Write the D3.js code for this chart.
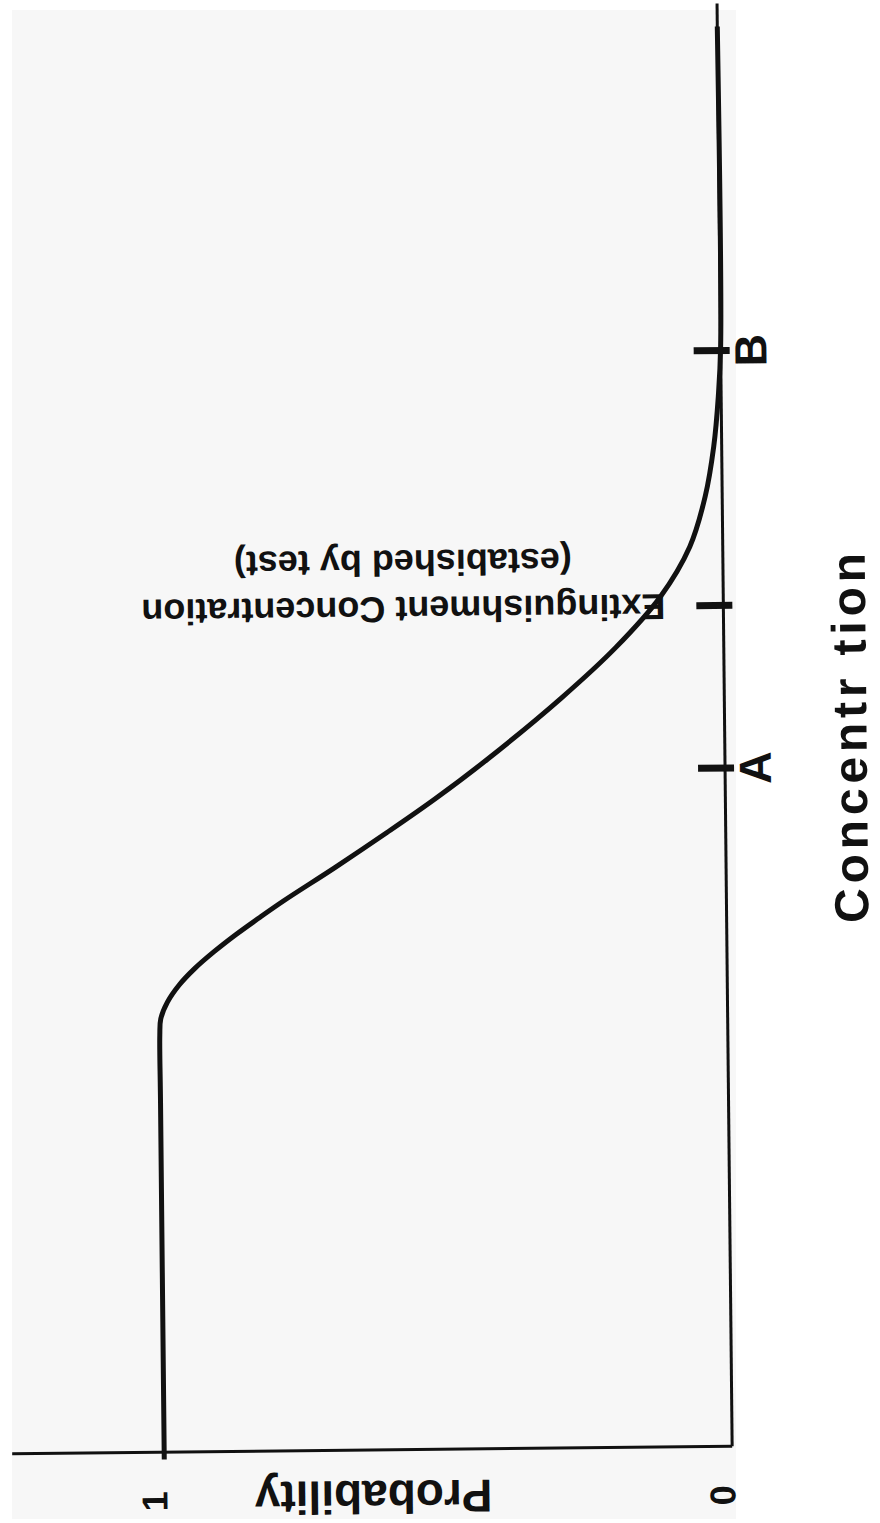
<!DOCTYPE html>
<html>
<head>
<meta charset="utf-8">
<script src="https://cdn.jsdelivr.net/npm/d3@7"></script>
<style>
  html, body { margin: 0; padding: 0; background: #ffffff; }
  svg { display: block; }
  text { font-family: "Liberation Sans", Arial, sans-serif; font-weight: bold; fill: #111; }
</style>
</head>
<body>
<svg id="chart" width="880" height="1523"></svg>
<script>
// Kurve: Konzentration (0..100) -> Wahrscheinlichkeit (0..1)
const concValues = [-0.5, 24.3, 29.0, 30.1, 31.25, 32.43, 33.54, 34.72, 35.9, 37.01, 38.19, 40.49,
  42.85, 45.14, 47.92, 52.08, 55.56, 59.03, 62.5, 65.97, 69.44, 72.92, 76.39, 98.6];
const probValues = [1, 1, 1, 0.998, 0.986, 0.965, 0.938, 0.903, 0.864, 0.824, 0.780, 0.688,
  0.597, 0.512, 0.417, 0.287, 0.190, 0.111, 0.058, 0.030, 0.014, 0.005, 0, 0];

// Markierungen auf der Konzentrationsachse
const tickConc = [47.1, 58.4, 76.1];
const tickLabels = ["A", "", "B"];
const probTicks = [1, 0];
const probTickLabels = ["1", "0"];

const extLabel = ["Extinguishment Concentration", "(estabished by test)"];
const extConc = 58.4;

const svg = d3.select("#chart");

// grauer Scan-Hintergrund
svg.append("rect")
  .attr("x", 12).attr("y", 10)
  .attr("width", 724).attr("height", 1509)
  .attr("fill", "#f7f7f7");

// ganze Grafik leicht schief, wie gescannt
const g = svg.append("g")
  .attr("transform", "rotate(-0.6, 372, 765)");

// Wahrscheinlichkeit laeuft horizontal (1 links, 0 rechts),
// Konzentration vertikal (nach oben steigend)
const x = d3.scaleLinear().domain([0, 1]).range([725, 157]);
const y = d3.scaleLinear().domain([0, 100]).range([1450, 10]);

// Achsen
g.append("line")
  .attr("x1", 5).attr("x2", x(0))
  .attr("y1", y(0)).attr("y2", y(0))
  .attr("stroke", "#111").attr("stroke-width", 3);

g.append("line")
  .attr("x1", x(0)).attr("x2", x(0))
  .attr("y1", y(0)).attr("y2", y(100.2))
  .attr("stroke", "#111").attr("stroke-width", 3);

// Ticks auf der Konzentrationsachse
g.selectAll("line.tick")
  .data(tickConc)
  .enter()
  .append("line")
  .attr("class", "tick")
  .attr("x1", x(0) - 27).attr("x2", x(0) + 9)
  .attr("y1", d => y(d)).attr("y2", d => y(d))
  .attr("stroke", "#111").attr("stroke-width", 7);

g.selectAll("text.tlabel")
  .data(tickConc)
  .enter()
  .append("text")
  .attr("class", "tlabel")
  .attr("transform", d => `translate(${x(0) + 30}, ${y(d)}) rotate(-90)`)
  .attr("text-anchor", "middle")
  .attr("dy", "0.35em")
  .style("font-size", "45px")
  .text((d, i) => tickLabels[i]);

// Kurve
const curveData = concValues.map((c, i) => ({ c: c, p: probValues[i] }));
const line = d3.line()
  .x(d => x(d.p))
  .y(d => y(d.c))
  .curve(d3.curveCatmullRom.alpha(0.5));

g.append("path")
  .datum(curveData)
  .attr("d", line)
  .attr("fill", "none")
  .attr("stroke", "#111")
  .attr("stroke-width", 5)
  .attr("stroke-linejoin", "round");

// Beschriftung Loeschkonzentration (kopfueber)
const ext = g.append("text")
  .attr("transform", `translate(405, ${y(extConc) + 1}) rotate(180)`)
  .attr("text-anchor", "middle")
  .style("font-size", "36px");

ext.selectAll("tspan")
  .data(extLabel)
  .enter()
  .append("tspan")
  .attr("x", 0)
  .attr("dy", (d, i) => i === 0 ? "0.35em" : "1.3em")
  .text(d => d);

// Wahrscheinlichkeit: Ticklabels 1 / 0
g.selectAll("text.plabel")
  .data(probTicks)
  .enter()
  .append("text")
  .attr("class", "plabel")
  .attr("transform", d => `translate(${x(d) - 10}, 1499) rotate(-90)`)
  .attr("text-anchor", "middle")
  .attr("dy", "0.35em")
  .style("font-size", "36px")
  .text((d, i) => probTickLabels[i]);

// Achsentitel
g.append("text")
  .attr("transform", "translate(366, 1497) rotate(180)")
  .attr("text-anchor", "middle")
  .attr("dy", "0.35em")
  .style("font-size", "46px")
  .text("Probability");

g.append("text")
  .attr("transform", "translate(850, 743) rotate(-90)")
  .attr("text-anchor", "middle")
  .attr("dy", "0.35em")
  .attr("textLength", 370)
  .attr("lengthAdjust", "spacing")
  .style("font-size", "48px")
  .text("Concentr tion");
</script>
</body>
</html>
